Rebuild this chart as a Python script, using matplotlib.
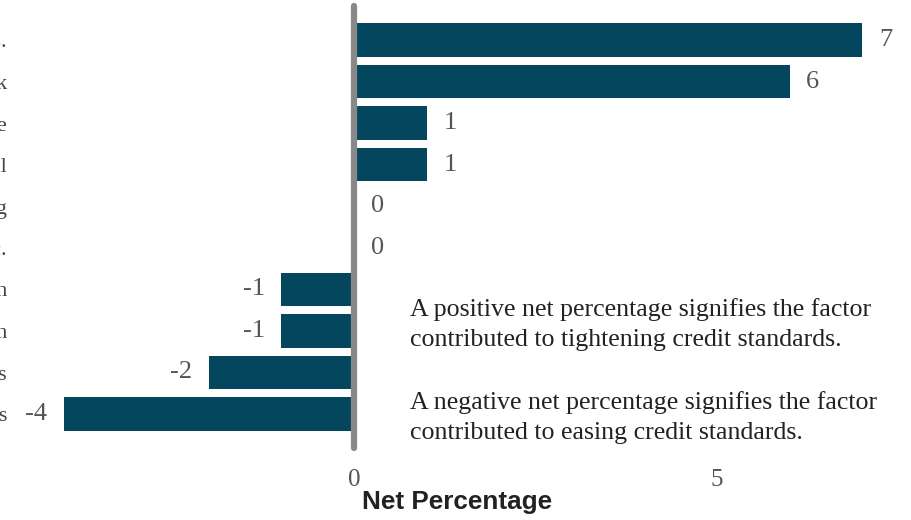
import matplotlib
matplotlib.use("Agg")
import matplotlib.pyplot as plt

categories = [
    "Increased concerns about the effects of legislative changes, supervisory actions, or changes in accounting standards.",
    "Less favorable or more uncertain economic outlook",
    "Reduced tolerance for risk exposure",
    "Less favorable or more uncertain outlook for CRE property values in general",
    "Less aggressive competition from other banks or nonbank lenders in CRE lending",
    "Worsening of industry-specific problems, etc.",
    "Deterioration in your bank's current or expected capital position",
    "Deterioration in your bank's current or expected liquidity position",
    "Decreased liquidity in the secondary market for these loans",
    "More aggressive competition from other banks or nonbank lenders",
]
values = [7, 6, 1, 1, 0, 0, -1, -1, -2, -4]
xticks = [0, 5]
note = ("A positive net percentage signifies the factor\n"
        "contributed to tightening credit standards.\n\n"
        "A negative net percentage signifies the factor\n"
        "contributed to easing credit standards.")

BAR = "#03465e"
W, H = 912, 520
fig = plt.figure(figsize=(W / 100, H / 100), dpi=100)
left_px, right_px, top_px, bot_px = 14, 912, 6, 448
ax = fig.add_axes([left_px / W, 1 - bot_px / H, (right_px - left_px) / W, (bot_px - top_px) / H])

scale = 72.6  # px per unit
x0 = 354
ax.set_xlim((left_px - x0) / scale, (right_px - x0) / scale)
pos = list(range(len(values)))
ax.barh(pos, values, height=0.8, color=BAR, zorder=2)
sp = 41.56
ax.set_ylim(9 + (bot_px - 414) / sp, -(40 - top_px) / sp)

ax.axvline(0, color="#888888", lw=4.5, solid_capstyle="round", zorder=3, clip_on=False)

for p, v in zip(pos, values):
    off = 12 if v >= 0 else -12
    ax.annotate(str(v), (v, p), xytext=(off, 0), textcoords="offset points",
                ha="left" if v >= 0 else "right", va="center", fontsize=19,
                color="#555555", family="Liberation Serif")

ax.set_yticks(pos)
ax.set_yticklabels(categories, fontsize=16, color="#444444", family="Liberation Serif")
ax.tick_params(axis="y", length=0, pad=5)
ax.set_xticks(xticks)
ax.set_xticklabels([str(t) for t in xticks], fontsize=18, color="#555555", family="Liberation Serif")
ax.tick_params(axis="x", length=0, pad=15)
for s in ax.spines.values():
    s.set_visible(False)

ax.text((410 - x0) / scale, 6.2, note, ha="left", va="top", fontsize=18.6,
        color="#222222", family="Liberation Serif", linespacing=1.5)

fig.text(457 / W, 1 - 502 / H, "Net Percentage", ha="center", va="center",
         fontsize=18.8, fontweight="bold", color="#222222", family="Liberation Sans")

fig.savefig("out.png", dpi=100)
